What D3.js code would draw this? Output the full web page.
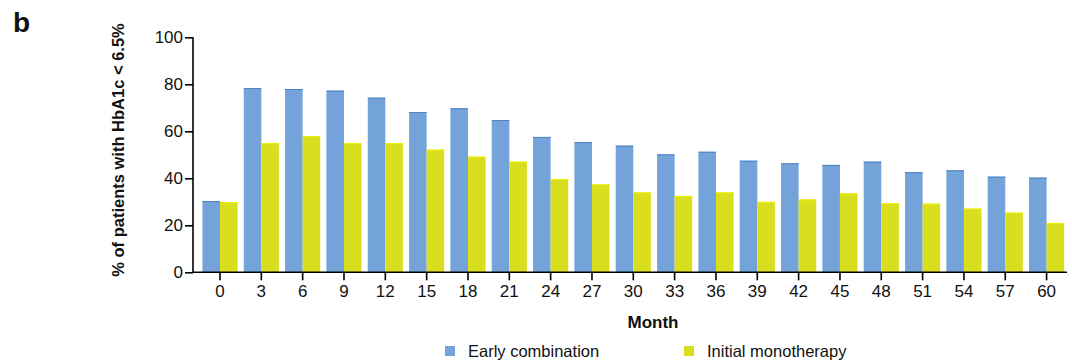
<!DOCTYPE html>
<html>
<head>
<meta charset="utf-8">
<script src="https://cdn.jsdelivr.net/npm/d3@7"></script>
<style>
  html, body { margin: 0; padding: 0; background: #fff; }
  svg { display: block; font-family: "Liberation Sans", Arial, sans-serif; }
</style>
</head>
<body>
<svg id="chart" width="1072" height="364"></svg>
<script>
// Months of follow-up
const months = [0, 3, 6, 9, 12, 15, 18, 21, 24, 27, 30, 33, 36, 39, 42, 45, 48, 51, 54, 57, 60];
// % of patients with HbA1c < 6.5%
const earlyCombination = [30.3, 78.4, 78.0, 77.3, 74.3, 68.2, 69.8, 64.8, 57.6, 55.4, 53.9, 50.2, 51.3, 47.5, 46.4, 45.7, 47.1, 42.6, 43.4, 40.7, 40.3];
const initialMonotherapy = [29.9, 55.0, 57.9, 55.0, 55.0, 52.2, 49.2, 47.1, 39.7, 37.4, 34.0, 32.5, 34.0, 30.0, 31.0, 33.6, 29.4, 29.2, 27.1, 25.4, 21.0];
const seriesNames = ["Early combination", "Initial monotherapy"];
const yTicks = [0, 20, 40, 60, 80, 100];

const colors = { fill: ["#73a3d9", "#d9df1f"], stroke: ["#4f82c4", "#eef000"] };
const FONT = "Liberation Sans, Arial, sans-serif";

const svg = d3.select("#chart");
const axisX0 = 193, plotBottom = 272.3, plotTop = 37.3;

const x = d3.scaleBand().domain(months).range([198.3, 1068.3]).paddingInner(0.15).paddingOuter(0.1);
const xSub = d3.scaleBand().domain([0, 1]).range([0, x.bandwidth()]);
const y = d3.scaleLinear().domain([0, 100]).range([plotBottom, plotTop]);

// Bars
const rows = months.map((m, i) => ({ month: m, values: [earlyCombination[i], initialMonotherapy[i]] }));
const groups = svg.append("g").selectAll("g").data(rows).join("g")
  .attr("transform", d => `translate(${x(d.month)},0)`);
groups.selectAll("rect").data(d => d.values.map((v, k) => ({ v, k }))).join("rect")
  .attr("x", d => xSub(d.k))
  .attr("y", d => y(d.v))
  .attr("width", xSub.bandwidth())
  .attr("height", d => y(0) - y(d.v))
  .attr("fill", d => colors.fill[d.k]);
// darker cap line on top of each bar
groups.selectAll("line.cap").data(d => d.values.map((v, k) => ({ v, k }))).join("line")
  .attr("class", "cap")
  .attr("x1", d => xSub(d.k)).attr("x2", d => xSub(d.k) + xSub.bandwidth())
  .attr("y1", d => y(d.v) + 0.5).attr("y2", d => y(d.v) + 0.5)
  .attr("stroke", d => colors.stroke[d.k]).attr("stroke-width", 1);

// Y axis
const yAxis = svg.append("g").attr("transform", `translate(${axisX0},0)`)
  .call(d3.axisLeft(y).tickValues(yTicks).tickSize(8).tickPadding(2));
yAxis.select(".domain").attr("stroke", "#000").attr("stroke-width", 1.6).attr("d", `M0,${plotTop}V${plotBottom}`);
yAxis.selectAll(".tick line").attr("stroke", "#000").attr("stroke-width", 1.6);
yAxis.selectAll(".tick text").attr("font-size", 17).attr("fill", "#111").attr("font-family", FONT);

// X axis
const xAxis = svg.append("g").attr("transform", `translate(0,${plotBottom})`)
  .call(d3.axisBottom(x).tickSize(8).tickPadding(5));
xAxis.select(".domain").attr("stroke", "#000").attr("stroke-width", 1.6).attr("d", `M${axisX0},0H1067`);
xAxis.selectAll(".tick line").attr("stroke", "#000").attr("stroke-width", 1.6);
xAxis.selectAll(".tick text").attr("font-size", 17).attr("fill", "#111").attr("font-family", FONT);

// Axis titles
svg.append("text").attr("x", 653).attr("y", 328).attr("text-anchor", "middle")
  .attr("font-size", 17).attr("font-weight", "bold").attr("fill", "#111").text("Month");
svg.append("text").attr("transform", "translate(124,150) rotate(-90)").attr("text-anchor", "middle")
  .attr("font-size", 16.5).attr("font-weight", "bold").attr("fill", "#111").text("% of patients with HbA1c < 6.5%");

// Panel letter
svg.append("text").attr("x", 13).attr("y", 32).attr("font-size", 28).attr("font-weight", "bold")
  .attr("fill", "#111").text("b");

// Legend
const legendX = [445, 684];
const legend = svg.append("g").selectAll("g").data(seriesNames).join("g")
  .attr("transform", (d, i) => `translate(${legendX[i]},346)`);
legend.append("rect").attr("width", 10).attr("height", 10).attr("fill", (d, i) => colors.fill[i]);
legend.append("text").attr("x", 23).attr("y", 11).attr("font-size", 16.5).attr("fill", "#111").text(d => d);
</script>
</body>
</html>
